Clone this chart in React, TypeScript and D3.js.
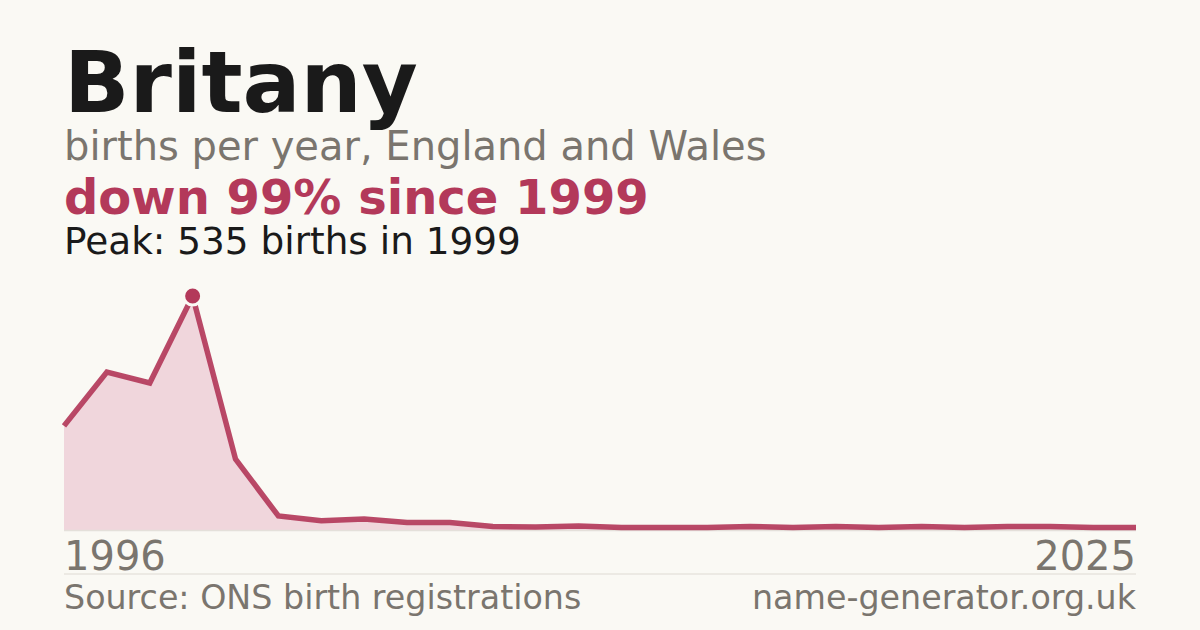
import React, { useMemo } from "react";
import * as d3 from "d3";

// births per year (years with suppressed counts are missing)
const years = [
  1996, 1997, 1998, 1999, 2000, 2001, 2002, 2003, 2004, 2005, 2006, 2007,
  2008, 2009, 2010, 2011, 2013, 2014, 2016, 2017, 2018, 2019, 2021, 2022,
  2024, 2025,
];
const births = [
  238, 361, 336, 535, 162, 32, 21, 25, 17, 17, 8, 7, 9, 6, 6, 6, 8, 6, 8, 6,
  8, 6, 8, 8, 6, 6,
];
const axisLabels = ["1996", "2025"];

const name = "Britany";
const subtitle = "births per year, England and Wales";
const headline = "down 99% since 1999";
const peakText = "Peak: 535 births in 1999";
const source = "Source: ONS birth registrations";
const site = "name-generator.org.uk";

const width = 1200,
  height = 630,
  marginLeft = 64,
  marginRight = 64,
  chartTop = 296,
  chartBottom = 530;

const bg = "#faf9f4";
const red = "#b3395a";
const pink = "#f0d6dc";
const grey = "#7a756e";
const font = "'DejaVu Sans', sans-serif";

const App = () => {
  const data = useMemo(
    () => years.map((y, i) => ({ year: y, value: births[i] })),
    []
  );

  const x = useMemo(
    () =>
      d3
        .scalePoint<number>()
        .domain(years)
        .range([marginLeft, width - marginRight]),
    []
  );

  const y = useMemo(
    () =>
      d3
        .scaleLinear()
        .domain([0, d3.max(births) as number])
        .range([chartBottom, chartTop]),
    []
  );

  const area = d3
    .area<{ year: number; value: number }>()
    .x((d) => x(d.year) as number)
    .y0(y(0))
    .y1((d) => y(d.value));

  const line = d3
    .line<{ year: number; value: number }>()
    .x((d) => x(d.year) as number)
    .y((d) => y(d.value));

  const peak = data[d3.maxIndex(births)];

  return (
    <svg
      width={width}
      height={height}
      viewBox={`0 0 ${width} ${height}`}
      style={{ position: "fixed", left: 0, top: 0, fontFamily: font }}
    >
      <rect width={width} height={height} fill={bg} />

      <text x={marginLeft} y={112} fontSize={86} fontWeight="bold" fill="#1a1a1a">
        {name}
      </text>
      <text x={marginLeft} y={160} fontSize={40} fill={grey}>
        {subtitle}
      </text>
      <text x={marginLeft} y={214} fontSize={48} fontWeight="bold" fill={red}>
        {headline}
      </text>
      <text x={marginLeft} y={254} fontSize={37.4} fill="#1a1a1a">
        {peakText}
      </text>

      <path d={area(data) ?? ""} fill={pink} />
      <line
        x1={marginLeft}
        x2={width - marginRight}
        y1={chartBottom + 0.5}
        y2={chartBottom + 0.5}
        stroke="#e4e0da"
        strokeWidth={1.5}
      />
      <path
        d={line(data) ?? ""}
        fill="none"
        stroke={red}
        strokeWidth={5.5}
        opacity={0.92}
      />
      <circle
        cx={x(peak.year)}
        cy={y(peak.value)}
        r={9}
        fill={red}
        stroke={bg}
        strokeWidth={3}
      />

      <text x={marginLeft} y={570} fontSize={40} fill={grey}>
        {axisLabels[0]}
      </text>
      <text
        x={width - marginRight}
        y={570}
        fontSize={40}
        fill={grey}
        textAnchor="end"
      >
        {axisLabels[1]}
      </text>

      <line
        x1={marginLeft}
        x2={width - marginRight}
        y1={574}
        y2={574}
        stroke="#dedad3"
        strokeWidth={1}
      />

      <text x={marginLeft} y={609} fontSize={33.3} fill={grey}>
        {source}
      </text>
      <text
        x={width - marginRight}
        y={609}
        fontSize={33.3}
        fill={grey}
        textAnchor="end"
      >
        {site}
      </text>
    </svg>
  );
};

export default App;
